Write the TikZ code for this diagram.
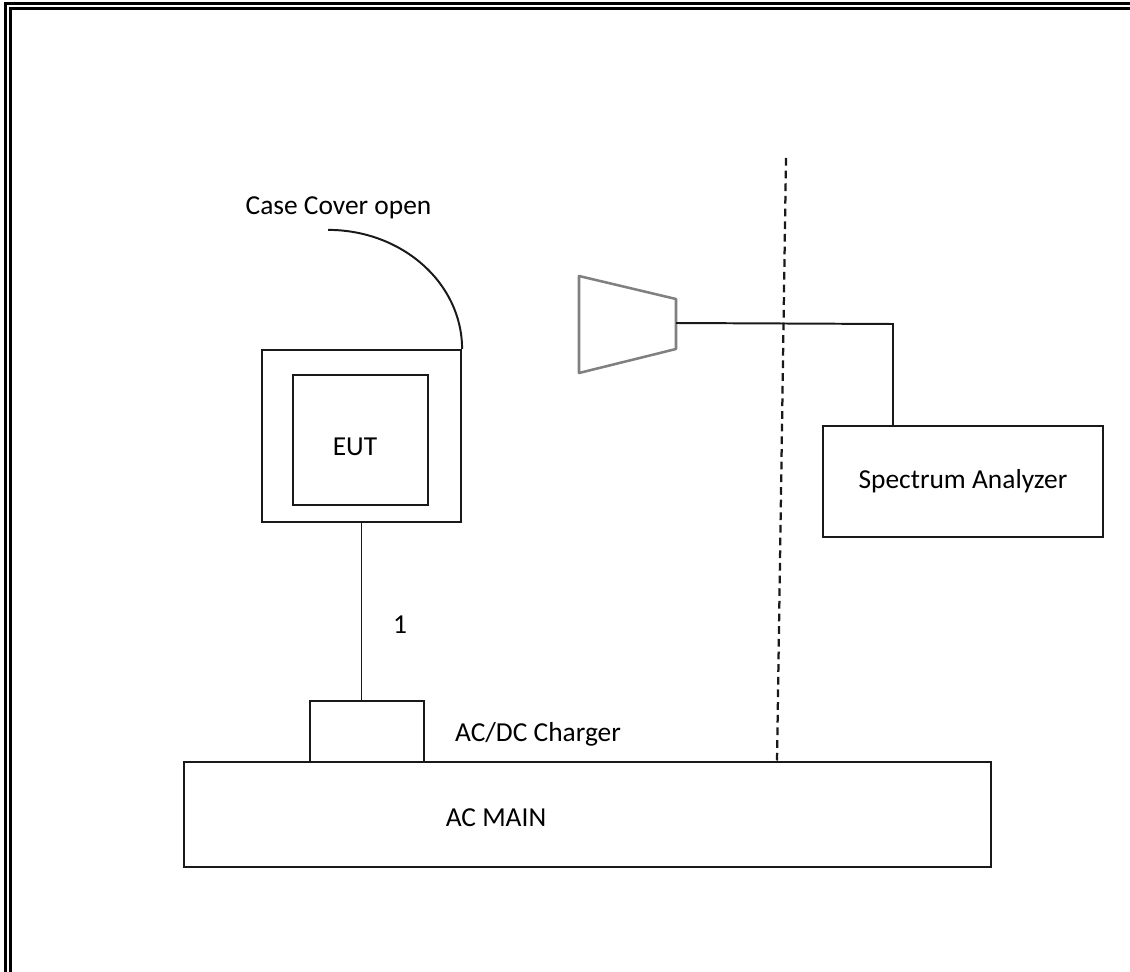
\documentclass[tikz,border=0pt]{standalone}
\usepackage{fontspec}
\setmainfont{Carlito}
\usepackage{tikz}
\usetikzlibrary{positioning, calc}
\definecolor{mydark}{RGB}{25,25,25}
\definecolor{horngray}{RGB}{128,128,128}
\tikzset{
  box/.style={rectangle, draw=mydark, line width=1.5pt, inner sep=0pt},
  lbl/.style={font=\fontsize{19.5}{23}\selectfont, inner sep=0pt},
  line/.style={draw, color=mydark, line width=1.4pt},
  frame/.style={draw=black, line width=2pt}
}
\begin{document}
\begin{tikzpicture}[x=0.025cm, y=-0.025cm]
  \useasboundingbox (0,0) rectangle (1130,972);

  % Frame (double line, top and left)
  \draw[frame] (5.5,972) -- (5.5,3.5) -- (1130,3.5);
  \draw[frame] (10.5,972) -- (10.5,8.5) -- (1130,8.5);

  % EUT (Left)
  \node[box, minimum width=4.975cm, minimum height=4.3cm] (eut) at (361.5,436) {};
  \node[box, minimum width=3.375cm, minimum height=3.25cm] (eutin) at (360.5,440) {};
  \node[lbl] (euttxt) at (355,447) {EUT};

  % Case cover
  \node[lbl] (cover) at (338.5,208) {Case Cover open};
  \draw[line] (eut.north east) arc[start angle=0, end angle=90, x radius=3.35cm, y radius=2.975cm];

  % Charger and AC main (Bottom)
  \node[box, minimum width=2.85cm, minimum height=1.525cm] (charger) at (367,731.5) {};
  \node[lbl] (chtxt) at (538,734) {AC/DC Charger};
  \node[box, minimum width=20.175cm, minimum height=2.625cm] (acmain) at (587.5,814.5) {};
  \node[lbl] (actxt) at (496,818) {AC MAIN};

  % Cable 1
  \draw[line] (eut.south) -- (eut.south |- charger.north);
  \node[lbl] (cable) at (400,625) {1};

  % Horn antenna
  \draw[draw=horngray, line width=1.8pt, line join=round] (579,276) -- (676,299) -- (676,349) -- (579,373) -- cycle;
  \coordinate (hornout) at (676,323);

  % Spectrum analyzer (Right)
  \node[box, lbl, minimum width=7cm, minimum height=2.775cm] (sa) at (963,481.5) {Spectrum Analyzer};
  \coordinate (bend) at (893,324);
  \draw[line] (hornout) -- (bend) -- (bend |- sa.north);

  % Separation line
  \coordinate (septop) at (786,158);
  \coordinate (sepbot) at (777,762);
  \draw[color=mydark, line width=1.6pt, dash pattern=on 5.5pt off 3.5pt] (septop) -- (sepbot);
\end{tikzpicture}
\end{document}
